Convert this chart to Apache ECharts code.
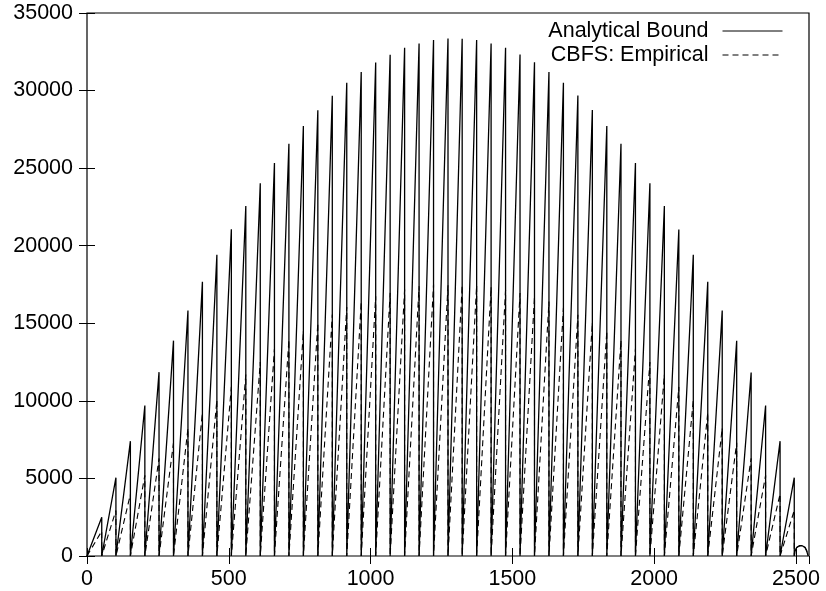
<!DOCTYPE html>
<html>
<head>
<meta charset="utf-8">
<script src="https://cdn.jsdelivr.net/npm/echarts@6/dist/echarts.min.js"></script>
<style>
  html, body { margin: 0; padding: 0; background: #fff; }
  #main { width: 826px; height: 591px; }
</style>
</head>
<body>
<div id="main"></div>
<script>
// x where each sawtooth tooth ends (it rises from the previous end, then drops to 0)
const toothEnd = [52, 102, 153, 204, 254, 305, 356, 407, 458, 509, 560, 611, 661, 712, 763, 814, 865,
  916, 967, 1018, 1069, 1120, 1171, 1222, 1273, 1323, 1374, 1425, 1476, 1527, 1578, 1629, 1680,
  1731, 1782, 1833, 1883, 1934, 1985, 2036, 2087, 2138, 2189, 2240, 2291, 2342, 2393, 2444, 2494]
// peak reached by the analytical bound at the end of each tooth
const boundPeak = [2500, 5050, 7400, 9700, 11850, 13880, 15820, 17670, 19420, 21060, 22560, 24030,
  25330, 26570, 27710, 28730, 29660, 30500, 31190, 31810, 32310, 32760, 33040, 33260, 33360,
  33340, 33260, 33040, 32760, 32330, 31830, 31200, 30500, 29680, 28750, 27720, 26570, 25330,
  24030, 22560, 21050, 19420, 17670, 15820, 13870, 11830, 9700, 7400, 5050]
// peak reached by the empirical CBFS curve in each tooth
const empPeak = [1600, 2940, 3980, 5200, 6290, 7300, 8230, 9240, 10060, 10900, 11700, 12500,
  13360, 13940, 14520, 15020, 15560, 16050, 16380, 16740, 16960, 17170, 17390, 17500, 17450,
  17450, 17450, 17350, 17150, 16950, 16700, 16400, 16000, 15550, 15050, 14500, 13900, 13350,
  12500, 11700, 10900, 10050, 9250, 8250, 7300, 6300, 5200, 4000, 2940]
// last partial tooth: a small arch
const archX = [2494, 2497, 2503, 2512, 2522, 2532, 2538, 2543]
const boundArch = [0, 330, 560, 660, 660, 560, 330, 0]
const empArch = [0, 320, 540, 640, 640, 540, 320, 0]

const xMax = 2546
const yMax = 35000

function teeth(peaks, arch) {
  const pts = [[0, 0]]
  toothEnd.forEach((x, i) => {
    pts.push([x, peaks[i]])
    pts.push([x, 0])
  })
  archX.forEach((x, i) => pts.push([x, arch[i]]))
  return pts
}

const font = 'Liberation Sans, Arial, Helvetica, sans-serif'
const fs = 21.5
const tickStyle = { show: true, inside: true, length: 8, lineStyle: { color: '#000', width: 1 } }

const legendBase = {
  right: 43, padding: 0,
  align: 'right', itemWidth: 60, itemHeight: 22,
  itemStyle: { opacity: 0, borderWidth: 0 },
  lineStyle: { width: 1 },
  textStyle: { fontFamily: font, fontSize: fs, color: '#000', padding: [0, 9, 0, 0] }
}

let myChart = echarts.init(document.getElementById('main'))
myChart.setOption({
  animation: false,
  backgroundColor: '#fff',
  textStyle: { fontFamily: font, color: '#000' },
  grid: {
    left: 87, right: 17, top: 13, bottom: 35,
    containLabel: false,
    outerBoundsMode: 'none',
    show: true,
    borderColor: '#000',
    borderWidth: 1.2,
    backgroundColor: '#fff'
  },
  legend: [
    Object.assign({}, legendBase, { data: ['Analytical Bound'], top: 20 }),
    Object.assign({}, legendBase, { data: ['CBFS: Empirical'], top: 44 })
  ],
  xAxis: [
    {
      type: 'value', min: 0, max: xMax, interval: 500,
      axisLine: { show: false },
      axisTick: tickStyle,
      splitLine: { show: false },
      axisLabel: {
        fontFamily: font, fontSize: fs, color: '#000', margin: 12, showMaxLabel: false,
        formatter: v => (v % 500 === 0 ? String(v) : '')
      }
    },
    {
      type: 'value', min: 0, max: xMax, interval: 500, position: 'top',
      axisLine: { show: false },
      axisTick: tickStyle,
      splitLine: { show: false },
      axisLabel: { show: false }
    }
  ],
  yAxis: [
    {
      type: 'value', min: 0, max: yMax, interval: 5000,
      axisLine: { show: false },
      axisTick: tickStyle,
      splitLine: { show: false },
      axisLabel: { fontFamily: font, fontSize: fs, color: '#000', margin: 14, formatter: v => String(v) }
    },
    {
      type: 'value', min: 0, max: yMax, interval: 5000, position: 'right',
      axisLine: { show: false },
      axisTick: tickStyle,
      splitLine: { show: false },
      axisLabel: { show: false }
    }
  ],
  series: [
    {
      name: 'Analytical Bound',
      type: 'line',
      data: teeth(boundPeak, boundArch),
      symbol: 'none',
      color: '#000',
      lineStyle: { color: '#000', width: 1.3, type: 'solid' }
    },
    {
      name: 'CBFS: Empirical',
      type: 'line',
      data: teeth(empPeak, empArch),
      symbol: 'none',
      color: '#000',
      lineStyle: { color: '#000', width: 1.1, type: [6, 4] }
    }
  ]
})
</script>
</body>
</html>
